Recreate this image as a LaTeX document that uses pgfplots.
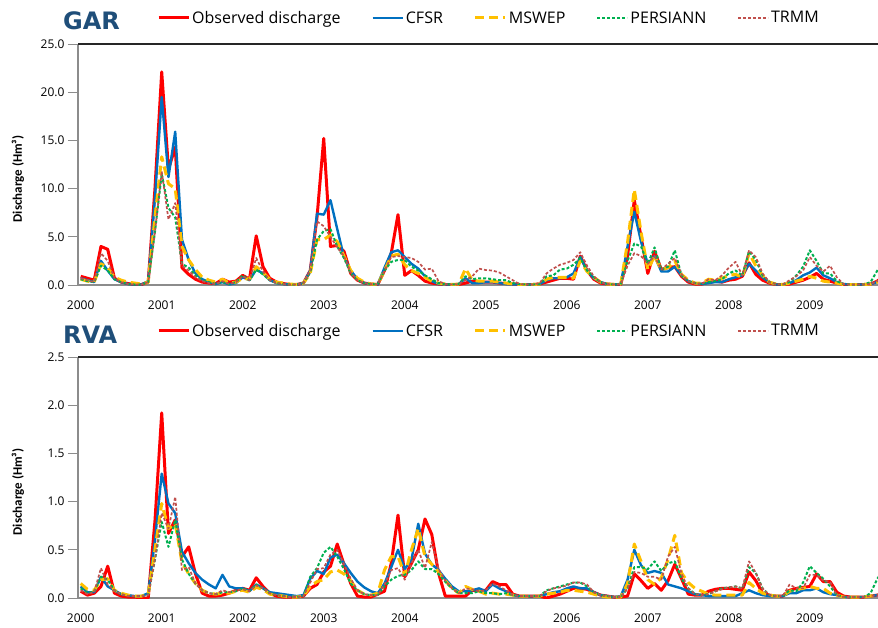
\documentclass[border=0pt]{standalone}
\usepackage{fontspec}
\setmainfont{Open Sans}
\newfontfamily\labfont{Carlito}
\newfontfamily\ttlfont{DejaVu Sans}
\usepackage{pgfplots}
\usepackage{pgfplotstable}
\pgfplotsset{compat=1.18}
\definecolor{cObs}{HTML}{FF0000}
\definecolor{cCFSR}{HTML}{0070C0}
\definecolor{cMSWEP}{HTML}{FFC000}
\definecolor{cPER}{HTML}{00B050}
\definecolor{cTRMM}{HTML}{C0504D}
\definecolor{ttl}{HTML}{1F4E79}
\definecolor{axgray}{HTML}{8C8C8C}

\pgfplotstableread{
m O C M P T
0 0.9 0.7 0.6 0.6 0.7
1 0.7 0.5 0.4 0.4 0.5
2 0.5 0.3 0.3 0.3 0.3
3 4.0 2.5 2.2 2.0 3.3
4 3.7 1.5 1.8 1.5 2.5
5 0.7 0.6 0.8 0.6 0.7
6 0.3 0.3 0.5 0.3 0.3
7 0.15 0.1 0.3 0.1 0.1
8 0.05 0.05 0.2 0.05 0.05
9 0.05 0.05 0.1 0.05 0.05
10 0.3 0.4 0.3 0.3 0.3
11 10.0 9.0 7.0 5.5 5.5
12 22.1 19.5 13.3 11.5 11.8
13 12.0 11.2 10.5 8.0 6.8
14 14.3 15.9 10.0 7.0 8.5
15 1.8 4.7 4.0 2.2 2.0
16 1.1 2.6 2.6 1.8 1.5
17 0.6 1.2 1.6 1.0 0.8
18 0.3 0.6 0.8 0.5 0.4
19 0.2 0.3 0.5 0.3 0.2
20 0.15 0.1 0.3 0.1 0.1
21 0.6 0.3 0.6 0.3 0.4
22 0.3 0.05 0.2 0.1 0.1
23 0.4 0.2 0.3 0.3 0.3
24 1.0 0.8 0.7 1.0 0.9
25 0.6 0.5 0.6 0.5 0.5
26 5.1 1.6 1.9 1.6 2.8
27 1.9 1.2 1.3 1.1 1.4
28 0.7 0.5 0.6 0.5 0.5
29 0.3 0.2 0.3 0.2 0.2
30 0.15 0.1 0.2 0.1 0.1
31 0.05 0.05 0.1 0.05 0.05
32 0.05 0.05 0.05 0.05 0.05
33 0.2 0.2 0.2 0.2 0.2
34 1.5 1.5 1.2 1.3 1.5
35 7.0 7.4 4.7 4.7 6.6
36 15.2 7.3 4.7 5.6 6.1
37 4.0 8.8 5.2 5.8 5.0
38 4.1 5.8 4.5 4.0 3.9
39 3.5 2.9 3.0 2.8 3.0
40 1.2 1.5 1.5 1.2 1.3
41 0.5 0.6 0.7 0.5 0.5
42 0.2 0.2 0.3 0.2 0.2
43 0.1 0.1 0.1 0.1 0.1
44 0.05 0.05 0.05 0.05 0.05
45 1.5 1.8 1.5 1.5 1.5
46 3.3 3.4 3.0 2.4 2.9
47 7.3 3.6 3.2 2.6 3.0
48 1.0 2.9 2.1 2.6 2.9
49 1.5 2.2 1.5 1.9 2.8
50 1.0 1.7 1.2 1.5 2.4
51 0.4 0.9 0.8 1.0 1.6
52 0.2 0.4 0.4 0.6 1.7
53 0.1 0.1 0.2 0.2 0.4
54 0.05 0.05 0.1 0.1 0.1
55 0.05 0.05 0.05 0.05 0.05
56 0.05 0.1 0.1 0.1 0.1
57 0.2 0.7 1.7 0.9 0.5
58 0.4 0.2 0.5 0.6 0.9
59 0.3 0.2 0.4 0.7 1.7
60 0.3 0.3 0.4 0.7 1.55
61 0.3 0.3 0.4 0.6 1.5
62 0.2 0.2 0.3 0.5 1.3
63 0.15 0.1 0.2 0.5 0.9
64 0.1 0.05 0.1 0.2 0.5
65 0.05 0.05 0.05 0.1 0.1
66 0.05 0.05 0.05 0.05 0.05
67 0.05 0.05 0.05 0.05 0.05
68 0.1 0.1 0.1 0.1 0.2
69 0.3 0.5 0.6 0.9 1.2
70 0.5 0.7 0.8 1.0 1.7
71 0.7 0.7 0.8 1.6 2.1
72 0.7 0.8 0.8 1.7 2.3
73 0.6 1.2 0.7 2.1 2.6
74 3.0 2.9 2.5 2.8 3.4
75 1.5 1.5 1.4 1.5 2.0
76 0.6 0.7 0.8 0.8 0.9
77 0.2 0.3 0.3 0.3 0.3
78 0.1 0.1 0.1 0.1 0.1
79 0.05 0.05 0.05 0.05 0.05
80 0.05 0.1 0.1 0.1 0.1
81 3.0 4.0 4.4 2.5 2.0
82 8.8 7.6 9.9 4.3 3.3
83 5.0 4.5 5.5 4.0 3.0
84 1.2 2.2 1.6 2.2 2.2
85 3.5 3.0 3.0 3.9 3.0
86 1.6 1.4 1.6 1.6 1.6
87 1.8 1.4 1.8 1.9 2.2
88 1.9 1.9 2.5 3.6 2.8
89 0.9 1.0 1.1 1.0 1.1
90 0.3 0.4 0.5 0.4 0.4
91 0.1 0.2 0.2 0.2 0.2
92 0.1 0.1 0.2 0.1 0.1
93 0.3 0.2 0.6 0.3 0.6
94 0.4 0.3 0.5 0.4 0.5
95 0.3 0.3 0.7 0.6 1.0
96 0.5 0.6 1.0 1.2 1.8
97 0.6 0.8 1.1 1.5 2.4
98 0.9 1.0 0.8 1.0 1.0
99 2.3 2.2 3.3 3.5 3.6
100 1.1 1.5 2.0 2.6 2.9
101 0.5 0.8 1.0 1.0 1.2
102 0.2 0.3 0.3 0.3 0.3
103 0.05 0.05 0.1 0.1 0.1
104 0.05 0.05 0.05 0.05 0.05
105 0.1 0.2 0.2 0.3 0.5
106 0.3 0.5 0.4 1.0 0.9
107 0.5 1.0 0.6 1.9 1.5
108 0.8 1.3 0.9 3.6 2.9
109 1.2 1.8 0.7 2.5 2.0
110 0.6 1.0 0.4 1.2 1.4
111 0.4 0.7 0.3 1.2 2.0
112 0.2 0.3 0.2 0.4 0.8
113 0.05 0.1 0.05 0.1 0.1
114 0.05 0.05 0.05 0.05 0.05
115 0.05 0.05 0.05 0.05 0.05
116 0.05 0.05 0.05 0.05 0.05
117 0.1 0.1 0.1 0.3 0.1
118 0.4 0.3 0.3 1.5 0.4
119 1.0 0.8 0.6 2.5 0.8
}\gar

\pgfplotstableread{
m O C M P T
0 0.07 0.12 0.15 0.10 0.08
1 0.03 0.06 0.09 0.05 0.04
2 0.05 0.06 0.08 0.07 0.06
3 0.12 0.22 0.19 0.22 0.31
4 0.33 0.12 0.20 0.19 0.14
5 0.05 0.08 0.08 0.08 0.08
6 0.02 0.04 0.05 0.04 0.04
7 0.01 0.03 0.03 0.02 0.02
8 0.01 0.02 0.02 0.02 0.02
9 0.00 0.02 0.02 0.02 0.02
10 0.00 0.05 0.04 0.03 0.03
11 0.80 0.60 0.50 0.40 0.40
12 1.92 1.29 0.98 0.79 0.88
13 0.67 0.98 0.72 0.53 0.72
14 0.81 0.88 0.77 0.81 1.05
15 0.43 0.48 0.37 0.40 0.29
16 0.53 0.36 0.25 0.25 0.32
17 0.25 0.26 0.15 0.15 0.15
18 0.05 0.19 0.08 0.08 0.08
19 0.02 0.14 0.05 0.05 0.05
20 0.02 0.10 0.04 0.04 0.04
21 0.03 0.24 0.05 0.06 0.08
22 0.05 0.12 0.05 0.06 0.06
23 0.08 0.10 0.07 0.07 0.08
24 0.10 0.10 0.08 0.10 0.09
25 0.08 0.07 0.06 0.07 0.07
26 0.21 0.14 0.11 0.14 0.13
27 0.12 0.10 0.09 0.10 0.10
28 0.05 0.06 0.04 0.05 0.05
29 0.02 0.05 0.03 0.03 0.03
30 0.01 0.04 0.02 0.02 0.02
31 0.01 0.03 0.01 0.01 0.01
32 0.01 0.02 0.01 0.01 0.01
33 0.02 0.03 0.02 0.02 0.02
34 0.10 0.20 0.12 0.22 0.16
35 0.14 0.28 0.17 0.31 0.30
36 0.27 0.25 0.19 0.47 0.31
37 0.33 0.42 0.27 0.53 0.45
38 0.56 0.45 0.29 0.43 0.50
39 0.35 0.36 0.25 0.30 0.35
40 0.15 0.26 0.18 0.15 0.20
41 0.02 0.17 0.08 0.08 0.08
42 0.01 0.11 0.04 0.04 0.04
43 0.01 0.07 0.03 0.03 0.03
44 0.04 0.05 0.05 0.03 0.03
45 0.07 0.15 0.29 0.12 0.14
46 0.36 0.32 0.43 0.19 0.29
47 0.86 0.50 0.43 0.23 0.31
48 0.22 0.30 0.24 0.24 0.19
49 0.36 0.40 0.50 0.29 0.36
50 0.50 0.77 0.72 0.38 0.50
51 0.82 0.46 0.43 0.30 0.31
52 0.66 0.35 0.35 0.30 0.58
53 0.26 0.29 0.27 0.25 0.30
54 0.02 0.20 0.18 0.17 0.18
55 0.02 0.12 0.10 0.10 0.10
56 0.02 0.07 0.05 0.05 0.05
57 0.02 0.07 0.12 0.05 0.10
58 0.08 0.08 0.09 0.05 0.09
59 0.08 0.10 0.07 0.07 0.07
60 0.08 0.07 0.04 0.05 0.08
61 0.17 0.14 0.05 0.05 0.15
62 0.14 0.10 0.04 0.04 0.12
63 0.14 0.07 0.04 0.05 0.08
64 0.04 0.03 0.03 0.03 0.03
65 0.02 0.02 0.02 0.02 0.02
66 0.02 0.02 0.02 0.02 0.02
67 0.02 0.02 0.02 0.02 0.02
68 0.02 0.02 0.02 0.02 0.02
69 0.00 0.04 0.04 0.08 0.07
70 0.02 0.06 0.05 0.10 0.10
71 0.04 0.07 0.06 0.12 0.11
72 0.07 0.10 0.08 0.14 0.13
73 0.10 0.12 0.08 0.16 0.16
74 0.10 0.10 0.07 0.16 0.16
75 0.09 0.10 0.06 0.12 0.14
76 0.06 0.06 0.04 0.06 0.06
77 0.03 0.03 0.02 0.03 0.03
78 0.02 0.02 0.01 0.02 0.02
79 0.01 0.01 0.01 0.01 0.01
80 0.01 0.02 0.01 0.01 0.01
81 0.02 0.19 0.15 0.10 0.10
82 0.25 0.50 0.56 0.32 0.27
83 0.18 0.34 0.38 0.32 0.26
84 0.10 0.26 0.19 0.30 0.22
85 0.15 0.28 0.14 0.38 0.22
86 0.08 0.26 0.21 0.28 0.19
87 0.18 0.14 0.40 0.36 0.43
88 0.35 0.12 0.65 0.38 0.53
89 0.20 0.10 0.26 0.20 0.25
90 0.04 0.07 0.16 0.10 0.10
91 0.03 0.04 0.10 0.04 0.04
92 0.03 0.03 0.07 0.03 0.03
93 0.07 0.02 0.04 0.04 0.04
94 0.09 0.02 0.03 0.07 0.07
95 0.10 0.02 0.03 0.10 0.09
96 0.10 0.02 0.03 0.11 0.11
97 0.09 0.02 0.03 0.12 0.12
98 0.08 0.05 0.03 0.10 0.10
99 0.27 0.08 0.16 0.32 0.38
100 0.18 0.05 0.10 0.26 0.26
101 0.05 0.03 0.05 0.10 0.10
102 0.03 0.02 0.03 0.03 0.03
103 0.02 0.02 0.02 0.02 0.02
104 0.02 0.02 0.02 0.02 0.02
105 0.08 0.05 0.07 0.08 0.14
106 0.10 0.05 0.09 0.07 0.10
107 0.11 0.08 0.10 0.16 0.10
108 0.12 0.08 0.12 0.33 0.24
109 0.25 0.10 0.10 0.26 0.24
110 0.17 0.06 0.10 0.20 0.18
111 0.17 0.04 0.05 0.12 0.17
112 0.06 0.03 0.03 0.03 0.03
113 0.02 0.01 0.01 0.01 0.01
114 0.01 0.01 0.01 0.01 0.01
115 0.01 0.01 0.01 0.01 0.01
116 0.01 0.01 0.01 0.01 0.01
117 0.02 0.02 0.02 0.05 0.02
118 0.03 0.03 0.03 0.20 0.03
119 0.05 0.05 0.05 0.30 0.05
}\rva

\pgfplotsset{
  panel/.style={
    scale only axis, width=800pt, height=241pt,
    xmin=-0.4, xmax=118.1, ymin=0,
    axis x line*=bottom, axis y line*=left,
    axis line style={-, axgray, line width=1.3pt},
    xtick={0,12,24,36,48,60,72,84,96,108},
    xticklabels={2000,2001,2002,2003,2004,2005,2006,2007,2008,2009},
    x tick style={draw=none},
    y tick style={axgray, line width=1pt},
    tick align=outside, major tick length=10pt,
    xticklabel style={yshift=-2pt},
    ticklabel style={font=\fontsize{12}{14}\selectfont},
    /pgf/number format/.cd, fixed, fixed zerofill, precision=1, assume math mode=true,
    /pgfplots/.cd,
    clip mode=individual,
    legend style={draw=none, fill=none, legend columns=-1,
      font=\fontsize{16}{19}\selectfont, anchor=west, inner sep=0pt,
      at={(0.09875,1.108)},
      /tikz/every even column/.append style={column sep=29pt}},
    legend image code/.code={\draw[#1] (0pt,0pt) -- (30pt,0pt);},
  },
  sObs/.style={cObs, line width=3pt, line join=round},
  sCFSR/.style={cCFSR, line width=2.4pt, line join=round},
  sMSWEP/.style={cMSWEP, line width=3pt, dash pattern=on 9pt off 5pt, line join=round},
  sPER/.style={cPER, line width=2pt, dash pattern=on 3pt off 2pt, line join=round},
  sTRMM/.style={cTRMM, line width=1.7pt, dash pattern=on 3pt off 2pt, line join=round},
}

\begin{document}
\begin{tikzpicture}[x=1pt,y=1pt]
\useasboundingbox (0,0) rectangle (878,-628);

\begin{axis}[panel, at={(78pt,-285pt)}, anchor=south west,
  ymax=25, ytick={0,5,10,15,20,25}]
  \addplot[sObs] table[x=m,y=O] {\gar};
  \addplot[sCFSR] table[x=m,y=C] {\gar};
  \addplot[sMSWEP] table[x=m,y=M] {\gar};
  \addplot[sPER] table[x=m,y=P] {\gar};
  \addplot[sTRMM] table[x=m,y=T] {\gar};
  \legend{Observed discharge,CFSR,MSWEP,PERSIANN,TRMM}
  \draw[black!85, line width=2pt] (rel axis cs:0,1) -- (rel axis cs:1,1);
\end{axis}

\begin{axis}[panel, at={(78pt,-598pt)}, anchor=south west,
  ymax=2.5, ytick={0,0.5,1,1.5,2,2.5}]
  \addplot[sObs] table[x=m,y=O] {\rva};
  \addplot[sCFSR] table[x=m,y=C] {\rva};
  \addplot[sMSWEP] table[x=m,y=M] {\rva};
  \addplot[sPER] table[x=m,y=P] {\rva};
  \addplot[sTRMM] table[x=m,y=T] {\rva};
  \legend{Observed discharge,CFSR,MSWEP,PERSIANN,TRMM}
  \draw[black!85, line width=2pt] (rel axis cs:0,1) -- (rel axis cs:1,1);
\end{axis}

\node[anchor=base west, inner sep=0pt, text=ttl,
  font=\ttlfont\bfseries\fontsize{24}{28}\selectfont] at (63,-30) {GAR};
\node[anchor=base west, inner sep=0pt, text=ttl,
  font=\ttlfont\bfseries\fontsize{24}{28}\selectfont] at (63,-343) {RVA};
\node[rotate=90, inner sep=0pt,
  font=\labfont\bfseries\fontsize{13}{15}\selectfont] at (18,-179) {Discharge (Hm³)};
\node[rotate=90, inner sep=0pt,
  font=\labfont\bfseries\fontsize{13}{15}\selectfont] at (18,-492) {Discharge (Hm³)};
\end{tikzpicture}
\end{document}
